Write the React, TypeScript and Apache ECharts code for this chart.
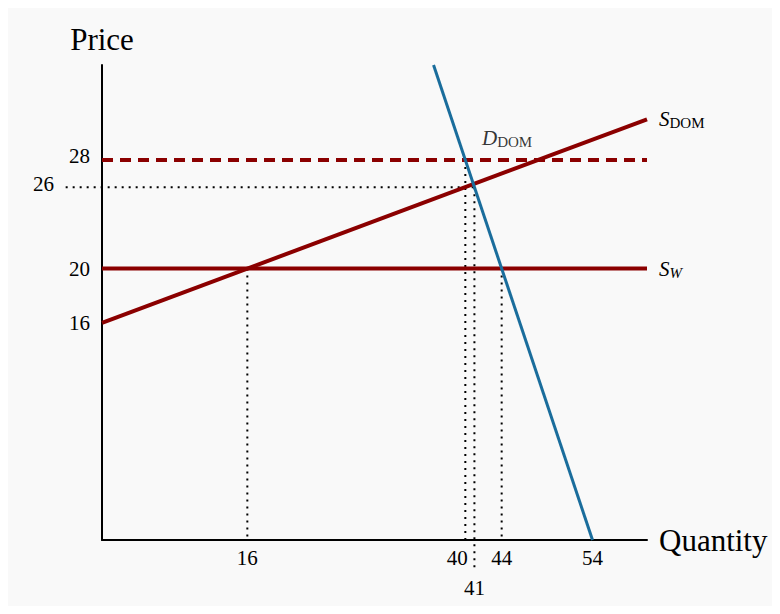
import React, { useEffect, useRef } from "react";
import * as echarts from "echarts";

const FONT = "Liberation Serif";
const RED = "#8b0000";
const BLUE = "#1a6d9c";

const xTicks = [16, 40, 41, 44, 54];
const yTicks = [16, 20, 26, 28];

const worldSupply = [[0, 20], [60, 20]];
const domesticSupply = [[0, 16], [60, 31]];
const tariffPrice = [[0, 28], [60, 28]];
const domesticDemand = [[36.5, 35], [54, 0]];

// guide segments: [x1, y1, x2, y2]
const guides = [
  [-4, 26, 41, 26],
  [40, 28, 40, 0],
  [41, 26, 41, -2],
  [44, 20, 44, 0],
  [16, 20, 16, 0],
];

const demandLabelAt = [[44.6, 29.6]];

const rich = {
  i: { fontFamily: FONT, fontStyle: "italic", fontSize: 21, lineHeight: 22, color: "#000" },
  s: { fontFamily: FONT, fontSize: 15, lineHeight: 14, padding: [8, 0, 0, 0], color: "#000" },
  si: { fontFamily: FONT, fontStyle: "italic", fontSize: 15, lineHeight: 14, padding: [8, 0, 0, 0], color: "#000" },
};

export default function App() {
  const ref = useRef<HTMLDivElement>(null);
  useEffect(() => {
    if (!ref.current) return;
    const chart = echarts.init(ref.current, null, { renderer: "svg" });
    const tickFont = { fontFamily: FONT, fontSize: 21, color: "#000" };
    chart.setOption({
      animation: false,
      backgroundColor: "#f9f9f9",
      grid: { left: 94, right: 125, top: 57, bottom: 66 },
      xAxis: {
        type: "value",
        min: 0,
        max: 60,
        name: "Quantity",
        nameLocation: "end",
        nameGap: 12,
        nameTextStyle: { fontFamily: FONT, fontSize: 31, color: "#000" },
        axisLine: { show: true, lineStyle: { color: "#000", width: 2 } },
        axisTick: { show: false },
        splitLine: { show: false },
        axisLabel: {
          ...tickFont,
          margin: 7,
          customValues: xTicks,
          formatter: (v: number) =>
            v === 40 ? "{l|40}" : v === 41 ? "{d|41}" : String(v),
          rich: {
            l: { ...tickFont, padding: [0, 16, 0, 0] },
            d: { ...tickFont, padding: [30, 0, 0, 0] },
          },
        },
      },
      yAxis: {
        type: "value",
        min: 0,
        max: 35,
        name: "Price",
        nameLocation: "end",
        nameGap: 10,
        nameTextStyle: { fontFamily: FONT, fontSize: 31, color: "#000" },
        axisLine: { show: true, lineStyle: { color: "#000", width: 2 } },
        axisTick: { show: false },
        splitLine: { show: false },
        axisLabel: {
          ...tickFont,
          margin: 12,
          customValues: yTicks,
          formatter: (v: number) =>
            v === 26 ? "{far|26}" : v === 28 ? "{up|28}" : String(v),
          rich: {
            far: { ...tickFont, padding: [0, 36, 6, 0] },
            up: { ...tickFont, padding: [0, 0, 8, 0] },
          },
        },
      },
      series: [
        {
          type: "custom",
          data: guides,
          silent: true,
          z: 1,
          renderItem: (_params: any, api: any) => {
            const p1 = api.coord([api.value(0), api.value(1)]);
            const p2 = api.coord([api.value(2), api.value(3)]);
            return {
              type: "line",
              shape: { x1: p1[0], y1: p1[1], x2: p2[0], y2: p2[1] },
              style: { stroke: "#000", lineWidth: 2, lineDash: [2, 5], fill: null },
            };
          },
        },
        {
          type: "line",
          data: tariffPrice,
          symbol: "none",
          lineStyle: { color: RED, width: 4, type: [11, 7] },
          z: 2,
        },
        {
          type: "line",
          data: worldSupply,
          symbol: "none",
          lineStyle: { color: RED, width: 4 },
          endLabel: { show: true, distance: 12, formatter: "{i|S}{si|W}", rich },
          z: 3,
        },
        {
          type: "line",
          data: domesticSupply,
          symbol: "none",
          lineStyle: { color: RED, width: 4 },
          endLabel: { show: true, distance: 12, formatter: "{i|S}{s|DOM}", rich },
          z: 3,
        },
        {
          type: "line",
          data: domesticDemand,
          symbol: "none",
          lineStyle: { color: BLUE, width: 3 },
          z: 4,
        },
        {
          type: "scatter",
          data: demandLabelAt,
          symbolSize: 0,
          silent: true,
          label: { show: true, position: "inside", formatter: "{i|D}{s|DOM}", rich },
          z: 5,
        },
      ],
    });
    return () => chart.dispose();
  }, []);
  return <div ref={ref} style={{ width: 764, height: 598 }} />;
}
